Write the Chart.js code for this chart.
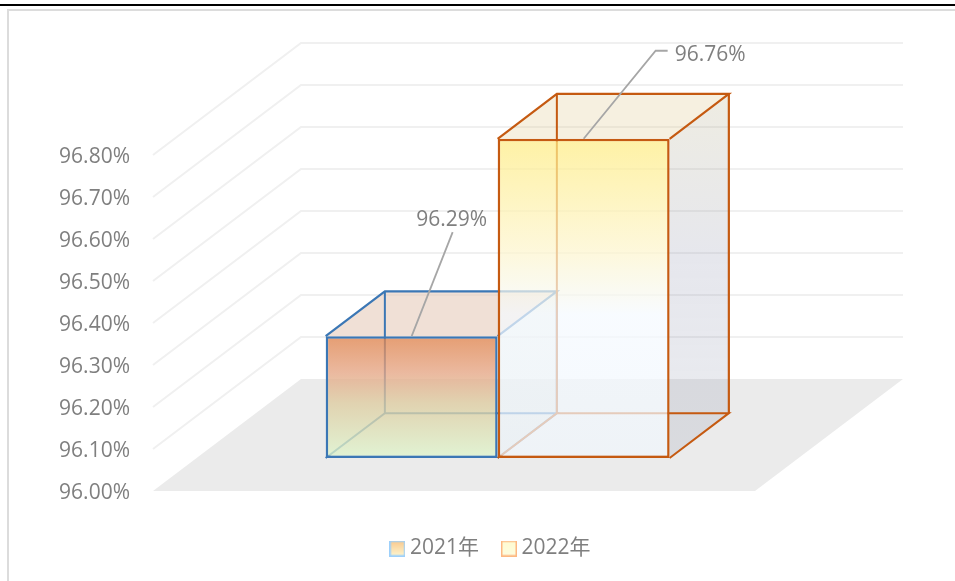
<!DOCTYPE html>
<html lang="zh">
<head>
<meta charset="utf-8">
<title>2021年 2022年</title>
<script src="https://cdn.jsdelivr.net/npm/chart.js@4/dist/chart.umd.min.js"></script>
<style>
  html, body { margin: 0; padding: 0; background: #fff; overflow: hidden; }
  #wrap { position: relative; width: 955px; height: 581px; overflow: hidden; }
  #chart { position: absolute; left: 0; top: 0; }
  .rule { position: absolute; }
  #ruleBlack { left: 0; right: 0; top: 4px; height: 2px; background: #000; }
  #ruleTop { left: 7px; right: 0; top: 9px; height: 2px; background: #dcdcdc; }
  #ruleLeft { left: 7px; top: 9px; bottom: 0; width: 2px; background: #dcdcdc; }
</style>
</head>
<body>
<div id="wrap">
  <div class="rule" id="ruleBlack"></div>
  <div class="rule" id="ruleTop"></div>
  <div class="rule" id="ruleLeft"></div>
  <canvas id="chart" width="955" height="581"></canvas>
</div>
<script>
const categories = [""];
const seriesNames = ["2021年", "2022年"];
const values2021 = [96.29];
const values2022 = [96.76];
const yTicks = [96.0, 96.1, 96.2, 96.3, 96.4, 96.5, 96.6, 96.7, 96.8];

const FONT = '"Open Sans", "Noto Sans CJK SC", sans-serif';
const TEXT_COLOR = "#7f7f7f";

// Schraege des 3D-Raums
const FLOOR_DX = 148;
const FLOOR_DY = -112;
const BAR_FRONT = 0.295;
const BAR_DEPTH = 0.4;

const boxStyles = [
  {
    edge: "#3b77b5",
    front: [[0, "rgba(222,130,75,.78)"], [.3, "rgba(229,165,132,.78)"], [.55, "rgba(222,204,160,.78)"], [1, "rgba(222,246,205,.78)"]],
    top: "rgba(230,203,187,.6)",
    side: [[0, "rgba(150,170,150,.15)"], [1, "rgba(150,170,150,.15)"]],
    leader: [[41, -104], [41, -104]],
    labelAt: [40, -116],
    labelAlign: "center"
  },
  {
    edge: "#c55a11",
    front: [[0, "rgba(254,236,130,.72)"], [.35, "rgba(253,245,205,.72)"], [.55, "rgba(245,250,255,.72)"], [1, "rgba(240,246,252,.72)"]],
    top: "rgba(225,205,152,.3)",
    side: [[0, "rgba(170,160,110,.2)"], [.45, "rgba(130,135,165,.2)"], [1, "rgba(110,120,150,.14)"]],
    leader: [[72, -88], [84, -88]],
    labelAt: [91, -84],
    labelAlign: "left"
  }
];

function makeGradient(ctx, y0, y1, stops) {
  const g = ctx.createLinearGradient(0, y0, 0, y1);
  stops.forEach(s => g.addColorStop(s[0], s[1]));
  return g;
}

function fillPoly(ctx, pts, fill) {
  ctx.beginPath();
  pts.forEach((p, i) => i ? ctx.lineTo(p[0], p[1]) : ctx.moveTo(p[0], p[1]));
  ctx.closePath();
  ctx.fillStyle = fill;
  ctx.fill();
}

function strokeLine(ctx, pts, color, width) {
  ctx.beginPath();
  pts.forEach((p, i) => i ? ctx.lineTo(p[0], p[1]) : ctx.moveTo(p[0], p[1]));
  ctx.strokeStyle = color;
  ctx.lineWidth = width;
  ctx.stroke();
}

function drawRoom(chart) {
  const ctx = chart.ctx;
  const y = chart.scales.y;
  const area = chart.chartArea;

  fillPoly(ctx, [
    [area.left, area.bottom],
    [area.right, area.bottom],
    [area.right + FLOOR_DX, area.bottom + FLOOR_DY],
    [area.left + FLOOR_DX, area.bottom + FLOOR_DY]
  ], "#ebebeb");

  yTicks.slice(1).forEach(v => {
    const py = y.getPixelForValue(v);
    strokeLine(ctx, [
      [area.left, py],
      [area.left + FLOOR_DX, py + FLOOR_DY],
      [area.right + FLOOR_DX, py + FLOOR_DY]
    ], "#f0f0f0", 2);
  });
}

function drawBox(chart, index) {
  const ctx = chart.ctx;
  const meta = chart.getDatasetMeta(index);
  const style = boxStyles[index];
  const fx = FLOOR_DX * BAR_FRONT;
  const fy = FLOOR_DY * BAR_FRONT;
  const bx = FLOOR_DX * BAR_DEPTH;
  const by = FLOOR_DY * BAR_DEPTH;

  meta.data.forEach(bar => {
    const l = bar.x - bar.width / 2 + fx;
    const r = bar.x + bar.width / 2 + fx;
    const t = bar.y + fy;
    const b = bar.base + fy;

    // Flaechen hinter der Front
    fillPoly(ctx, [[l, t], [r, t], [r + bx, t + by], [l + bx, t + by]], style.top);
    fillPoly(ctx, [[r, t], [r + bx, t + by], [r + bx, b + by], [r, b]],
      makeGradient(ctx, t + by, b, style.side));

    // Kanten hinten
    strokeLine(ctx, [[l, b], [l + bx, b + by], [r + bx, b + by], [r, b]], style.edge, 2);
    strokeLine(ctx, [[l + bx, b + by], [l + bx, t + by]], style.edge, 2);
    strokeLine(ctx, [[l, t], [l + bx, t + by], [r + bx, t + by], [r, t]], style.edge, 2.2);
    strokeLine(ctx, [[r + bx, t + by], [r + bx, b + by]], style.edge, 2.2);
  });

  // Front zeichnet Chart.js selbst, nur in die Tiefe verschoben
  ctx.save();
  ctx.translate(fx, fy);
  meta.controller.draw();
  ctx.restore();
}

function drawLabel(chart, index) {
  const ctx = chart.ctx;
  const meta = chart.getDatasetMeta(index);
  const style = boxStyles[index];
  const values = chart.data.datasets[index].data;

  meta.data.forEach((bar, i) => {
    const x = bar.x + FLOOR_DX * BAR_FRONT;
    const y = bar.y + FLOOR_DY * BAR_FRONT;

    strokeLine(ctx, [
      [x, y],
      [x + style.leader[0][0], y + style.leader[0][1]],
      [x + style.leader[1][0], y + style.leader[1][1]]
    ], "#a6a6a6", 1.8);

    ctx.font = "21px " + FONT;
    ctx.fillStyle = TEXT_COLOR;
    ctx.textAlign = style.labelAlign;
    ctx.textBaseline = "middle";
    ctx.fillText(values[i].toFixed(2) + "%", x + style.labelAt[0], y + style.labelAt[1]);
  });
}

const room3d = {
  id: "room3d",
  afterLayout(chart) {
    // Legende sitzt nicht mittig im Canvas
    chart.legend.left = 31;
    chart.legend.right = 955;
    chart.legend.top = 510;
    chart.legend.bottom = 581;
  },
  beforeDraw(chart) {
    // Achsentexte sitzen etwas tiefer als die Teilstriche
    chart.scales.y.getLabelItems().forEach(item => {
      item.options.translation = [item.options.translation[0], item.options.translation[1] + 2];
    });
  },
  beforeDatasetsDraw(chart) {
    drawRoom(chart);
    seriesNames.forEach((n, i) => drawBox(chart, i));
    seriesNames.forEach((n, i) => drawLabel(chart, i));
    return false;
  }
};

function legendIcon(stroke, top, bottom) {
  const c = document.createElement("canvas");
  c.width = 16;
  c.height = 16;
  const g = c.getContext("2d");
  const grad = g.createLinearGradient(0, 0, 0, 16);
  grad.addColorStop(0, top);
  grad.addColorStop(1, bottom);
  g.fillStyle = grad;
  g.fillRect(1, 1, 14, 14);
  g.strokeStyle = stroke;
  g.lineWidth = 1.5;
  g.strokeRect(.75, .75, 14.5, 14.5);
  return c;
}

const legendIcons = [
  legendIcon("#9dd0fb", "#f9c88c", "#fdf6d0"),
  legendIcon("#fdb982", "#fffbd0", "#fdfde0")
];

function frontFill(index) {
  return context => {
    const chart = context.chart;
    if (!chart.chartArea) return "transparent";
    const y = chart.scales.y;
    const value = chart.data.datasets[index].data[0];
    return makeGradient(chart.ctx, y.getPixelForValue(value), y.getPixelForValue(yTicks[0]), boxStyles[index].front);
  };
}

new Chart(document.getElementById("chart"), {
  type: "bar",
  data: {
    labels: categories,
    datasets: [
      {
        label: seriesNames[0],
        data: values2021,
        base: yTicks[0],
        backgroundColor: frontFill(0),
        borderColor: boxStyles[0].edge,
        borderWidth: 2.5,
        borderSkipped: false
      },
      {
        label: seriesNames[1],
        data: values2022,
        base: yTicks[0],
        backgroundColor: frontFill(1),
        borderColor: boxStyles[1].edge,
        borderWidth: 2.5,
        borderSkipped: false
      }
    ]
  },
  options: {
    responsive: false,
    animation: false,
    categoryPercentage: 0.5714,
    barPercentage: 1,
    layout: {
      padding: { left: 0, right: 200, top: 155, bottom: 31 }
    },
    plugins: {
      tooltip: { enabled: false },
      legend: {
        position: "bottom",
        labels: {
          color: TEXT_COLOR,
          font: { family: FONT, size: 21 },
          padding: 28,
          usePointStyle: true,
          pointStyleWidth: 4,
          generateLabels: chart => chart.data.datasets.map((d, i) => ({
            text: d.label,
            pointStyle: legendIcons[i],
            fontColor: TEXT_COLOR,
            datasetIndex: i
          }))
        }
      }
    },
    scales: {
      x: {
        grid: { display: false, drawTicks: false },
        border: { display: false },
        ticks: { display: false }
      },
      y: {
        min: yTicks[0],
        max: yTicks[yTicks.length - 1],
        afterBuildTicks: scale => {
          scale.ticks = yTicks.map(v => ({ value: v }));
        },
        afterFit: scale => {
          scale.width = 153;
        },
        grid: { display: false, drawTicks: false },
        border: { display: false },
        ticks: {
          color: TEXT_COLOR,
          font: { family: FONT, size: 21 },
          padding: 23,
          callback: v => v.toFixed(2) + "%"
        }
      }
    }
  },
  plugins: [room3d]
});
</script>
</body>
</html>
